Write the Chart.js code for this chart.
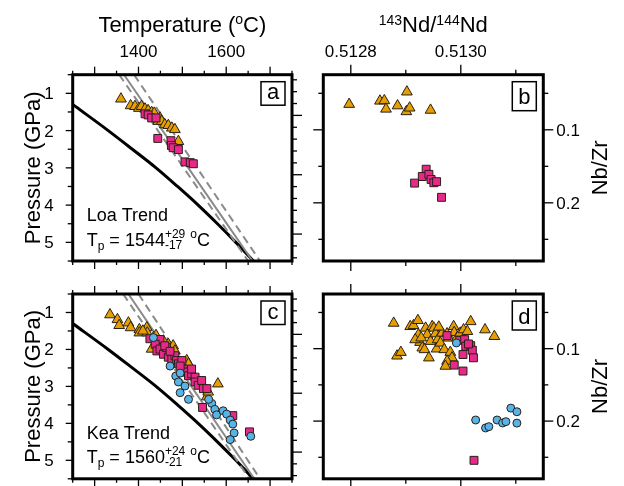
<!DOCTYPE html>
<html><head><meta charset="utf-8">
<script src="https://cdn.jsdelivr.net/npm/chart.js@4/dist/chart.umd.min.js"></script>
<style>
html,body{margin:0;padding:0;background:#fff;}
#wrap{position:relative;width:624px;height:486px;overflow:hidden;background:#fff;}
canvas{position:absolute;left:0;top:0;}
</style></head><body>
<div id="wrap">
<canvas id="ca" width="624" height="486"></canvas>
<canvas id="cb" width="624" height="486"></canvas>
<canvas id="cc" width="624" height="486"></canvas>
<canvas id="cd" width="624" height="486"></canvas>
</div>
<script>
// ---------- axis ticks ----------
const tempTicks = [1250,1300,1350,1400,1450,1500,1550,1600,1650,1700,1750];
const tempMajor = [1300,1400,1500,1600,1700];
const tempLabels = [1400,1600];
const presTicks = [0.5,1,1.5,2,2.5,3,3.5,4,4.5,5,5.5];
const presMajor = [1,2,3,4,5];
const presLabels = [1,2,3,4,5];
const depthTicks = [20,30,40,50,60,70,80,90,100,110,120,130,140,150,160,170];
const depthMajor = [50,100,150];
const ndTicks = [0.5128,0.5129,0.5130,0.5131];
const ndMajor = [0.5128,0.5130];
const ndLabels = [0.5128,0.5130];
const nbzrTicks = [0.05,0.1,0.15,0.2,0.25];
const nbzrMajor = [0.1,0.2];
const nbzrLabels = [0.1,0.2];

// ---------- model curves (Temperature °C, Pressure GPa) ----------
const solidusTP = [[1250,1.3],[1331,2],[1386,2.5],[1440,3],[1489,3.5],[1536,4],[1580,4.5],[1622,5],[1662,5.5]];
const loaAdiabatTP = [[1367,0.5],[1660,5.5]];
const loaAdiabatLoTP = [[1356,0.5],[1650,5.5]];
const loaAdiabatHiTP = [[1390,0.5],[1677,5.5]];
const keaAdiabatTP = [[1377,0.5],[1664,5.5]];
const keaAdiabatLoTP = [[1365,0.5],[1653,5.5]];
const keaAdiabatHiTP = [[1400,0.5],[1677,5.5]];

// ---------- Loa trend, panel a (T, P) ----------
const loaTriTP = [[1360,1.15],[1382,1.33],[1392,1.35],[1401,1.40],[1407,1.35],[1415,1.42],[1422,1.46],[1430,1.51],[1436,1.53],[1449,1.66],[1445,1.75],[1453,1.75],[1460,1.84],[1468,1.86],[1476,1.93],[1483,1.97],[1491,2.29]];
const loaSqTP = [[1415,1.55],[1422,1.58],[1430,1.66],[1440,1.66],[1444,2.21],[1474,2.27],[1475,2.40],[1479,2.46],[1491,2.51],[1506,2.84],[1518,2.86],[1525,2.89]];
// ---------- Loa trend, panel b (143Nd/144Nd, Nb/Zr) ----------
const loaTriNdNb = [[0.512797,0.065],[0.512853,0.0605],[0.512861,0.060],[0.512864,0.0715],[0.512885,0.067],[0.512902,0.048],[0.512901,0.075],[0.512907,0.070],[0.512945,0.073]];
const loaSqNdNb = [[0.512937,0.154],[0.51293,0.164],[0.512942,0.161],[0.512946,0.168],[0.512916,0.173],[0.512951,0.1725],[0.512956,0.171],[0.512965,0.1925]];

// ---------- Kea trend, panel c (T, P) ----------
const keaTriTP = [[1335,1.06],[1352,1.19],[1356,1.35],[1377,1.28],[1382,1.41],[1402,1.46],[1402,1.55],[1419,1.41],[1420,1.55],[1434,1.68],[1430,1.99],[1457,1.77],[1468,1.86],[1479,1.90],[1483,2.04],[1476,2.13],[1510,2.30],[1514,2.39],[1581,2.93],[1556,3.28],[1559,3.15],[1440,1.62],[1410,1.50],[1447,1.80],[1465,2.00]];
const keaSqTP = [[1426,1.71],[1449,1.73],[1438,1.86],[1442,2.04],[1449,1.99],[1457,2.13],[1464,1.95],[1468,2.21],[1476,2.26],[1483,2.17],[1487,2.30],[1491,2.39],[1499,2.30],[1502,2.53],[1506,2.61],[1514,2.71],[1521,2.66],[1529,2.75],[1529,2.88],[1536,2.97],[1544,2.84],[1548,3.06],[1556,3.06],[1546,3.57],[1615,3.79],[1653,4.23],[1521,2.53],[1495,2.45],[1460,1.90],[1472,2.05]];
const keaCircTP = [[1434,1.68],[1472,2.45],[1485,2.72],[1495,2.64],[1491,2.88],[1506,2.99],[1495,3.17],[1514,3.35],[1567,3.46],[1574,3.62],[1578,3.77],[1593,3.66],[1601,3.75],[1609,3.91],[1615,4.02],[1618,4.26],[1609,4.44],[1656,4.35],[1560,3.35]];
// ---------- Kea trend, panel d (143Nd/144Nd, Nb/Zr) ----------
const keaTriNdNb = [[0.512878,0.0647],[0.512884,0.110],[0.512891,0.105],[0.512908,0.0693],[0.512914,0.068],[0.512922,0.061],[0.512923,0.0807],[0.512926,0.0912],[0.512930,0.0989],[0.512934,0.1012],[0.512936,0.0715],[0.512939,0.0807],[0.512942,0.1126],[0.512945,0.0898],[0.512948,0.0693],[0.512951,0.0715],[0.512954,0.0793],[0.512956,0.1003],[0.512958,0.0875],[0.512963,0.0921],[0.512966,0.0784],[0.512970,0.1012],[0.512975,0.0793],[0.512978,0.0852],[0.512981,0.105],[0.512984,0.1126],[0.512975,0.1172],[0.512972,0.1241],[0.512987,0.0693],[0.512988,0.0775],[0.512993,0.0852],[0.512999,0.0784],[0.513005,0.0738],[0.513012,0.0761],[0.513018,0.0625],[0.513044,0.0738],[0.513061,0.083],[0.512917,0.0875],[0.512928,0.0850],[0.512960,0.0700]];
const keaSqNdNb = [[0.512975,0.082],[0.512998,0.0885],[0.513007,0.0875],[0.513009,0.0967],[0.513018,0.0958],[0.513021,0.1022],[0.513004,0.1081],[0.513023,0.1126],[0.512988,0.1227],[0.513004,0.1309],[0.513024,0.2542],[0.513014,0.0935]];
const keaCircNdNb = [[0.512992,0.0921],[0.513027,0.1985],[0.513045,0.2095],[0.513051,0.2077],[0.513066,0.1985],[0.513076,0.2026],[0.513082,0.2008],[0.513091,0.1821],[0.513102,0.1871],[0.513102,0.2028]];

// ---------- styling ----------
const FONT = "'Liberation Sans', Arial, Helvetica, sans-serif";
const fnt = s => s + 'px ' + FONT;
const ORANGE = '#E69F00', MAGENTA = '#E7298A', BLUE = '#56B4E9', EDGE = '#2a2018';
const TRI_R = 6.2, SQ_R = 5.6, CIRC_R = 4;

const pts = arr => arr.map(p => ({x:p[0], y:p[1]}));
function markers(arr, style, color, r, order){
  return {data: pts(arr), pointStyle: style, backgroundColor: color, borderColor: EDGE,
    pointBorderWidth: 1, pointRadius: r, showLine: false, order: order};
}
function curve(arr, color, w, dash, order){
  return {data: pts(arr), showLine: true, borderColor: color, borderWidth: w, borderDash: dash || [],
    pointRadius: 0, fill: false, order: order, cubicInterpolationMode: 'monotone'};
}
const near = (a, list) => list.some(v => Math.abs(v - a) < 1e-9);

function segW(ctx, s){
  if (s.stack) return Math.max(...s.stack.map(p => {ctx.font = fnt(p.size); return ctx.measureText(p.t).width;}));
  ctx.font = fnt(s.size); return ctx.measureText(s.t).width;
}
function drawRich(ctx, segs, x, y, align){
  const total = segs.reduce((a, s) => a + segW(ctx, s), 0);
  let cx = align === 'center' ? x - total / 2 : x;
  ctx.textAlign = 'left'; ctx.textBaseline = 'alphabetic';
  segs.forEach(s => {
    const w = segW(ctx, s);
    if (s.stack) s.stack.forEach(p => {ctx.font = fnt(p.size); ctx.fillText(p.t, cx, y + p.dy);});
    else {ctx.font = fnt(s.size); ctx.fillText(s.t, cx, y + (s.dy || 0));}
    cx += w;
  });
}

function panelPlugin(o){
  return {
  id: 'panel',
  afterDraw(chart){
    const ctx = chart.ctx, a = chart.chartArea;
    ctx.save();
    ctx.strokeStyle = '#000'; ctx.fillStyle = '#000';
    ctx.lineWidth = 1.3;
    o.ticks.forEach(t => {
      const sc = chart.scales[t.scale];
      t.values.forEach(v => {
        const len = near(v, t.major) ? t.majorLen : t.minorLen;
        const p = sc.getPixelForValue(v);
        ctx.beginPath();
        if (t.side === 'top'){ctx.moveTo(p, a.top); ctx.lineTo(p, a.top - len);}
        if (t.side === 'bottom'){ctx.moveTo(p, a.bottom); ctx.lineTo(p, a.bottom + len);}
        if (t.side === 'left'){ctx.moveTo(a.left, p); ctx.lineTo(a.left - len, p);}
        if (t.side === 'right'){ctx.moveTo(a.right, p); ctx.lineTo(a.right + len, p);}
        ctx.stroke();
      });
    });
    ctx.lineWidth = 3;
    ctx.strokeRect(a.left, a.top, a.right - a.left, a.bottom - a.top);
    // tick labels
    ctx.textBaseline = 'alphabetic';
    (o.labels || []).forEach(l => {
      const sc = chart.scales[l.scale];
      l.values.forEach(v => {
        const p = sc.getPixelForValue(v), txt = l.fmt(v);
        ctx.font = fnt(17);
        if (l.side === 'top'){ctx.textAlign = 'center'; ctx.fillText(txt, p, a.top - 18);}
        if (l.side === 'left'){ctx.textAlign = 'right'; ctx.fillText(txt, a.left - 19, p + 6);}
        if (l.side === 'right'){ctx.textAlign = 'left'; ctx.fillText(txt, a.right + 13, p + 6);}
      });
    });
    // axis titles
    (o.titles || []).forEach(tt => {
      if (tt.rot){
        ctx.save(); ctx.translate(tt.x, (a.top + a.bottom) / 2); ctx.rotate(-Math.PI / 2);
        drawRich(ctx, tt.segs, 0, 0, 'center'); ctx.restore();
      } else drawRich(ctx, tt.segs, (a.left + a.right) / 2, tt.y, 'center');
    });
    // trend text
    if (o.trend){
      drawRich(ctx, [{t: o.trend.name, size: 18}], a.left + 14, a.bottom - 40, 'left');
      drawRich(ctx, [
        {t:'T', size:18}, {t:'p', size:12, dy:4}, {t:' = ' + o.trend.tp, size:18},
        {stack:[{t:o.trend.plus, size:12, dy:-8}, {t:o.trend.minus, size:12, dy:3}]},
        {t:' ', size:18}, {t:'o', size:12, dy:-8}, {t:'C', size:18}
      ], a.left + 14, a.bottom - 15.5, 'left');
    }
    // panel letter box
    if (o.letter){
      const w = 24, h = o.letter.h, bx = a.right - 7 - w, by = a.top + 7;
      ctx.fillStyle = '#fff'; ctx.fillRect(bx, by, w, h); ctx.fillStyle = '#000';
      ctx.lineWidth = 1.5; ctx.strokeRect(bx, by, w, h);
      ctx.font = fnt(22); ctx.textAlign = 'center'; ctx.textBaseline = 'alphabetic';
      ctx.fillText(o.letter.t, bx + w / 2, by + h - o.letter.pad);
    }
    ctx.restore();
  }
  };
}

function makeChart(id, datasets, scales, pad, panel){
  return new Chart(document.getElementById(id), {
    type: 'scatter',
    data: {datasets},
    options: {
      responsive: false, animation: false, devicePixelRatio: 1, events: [],
      layout: {padding: pad},
      scales,
      plugins: {legend: {display: false}, tooltip: {enabled: false}, title: {display: false}}
    },
    plugins: [panelPlugin(panel)]
  });
}

const tpScales = () => ({
  x: {type:'linear', min:1250, max:1750, display:false},
  y: {type:'linear', min:0.5, max:5.5, reverse:true, display:false},
  yd: {type:'linear', min:15.7, max:172.7, reverse:true, display:false}
});
const ndScales = () => ({
  x: {type:'linear', min:0.51275, max:0.51315, display:false},
  y: {type:'linear', min:0.0245, max:0.2797, reverse:true, display:false}
});
const tpTicks = [
  {side:'top', scale:'x', values:tempTicks, major:tempMajor, majorLen:8, minorLen:4},
  {side:'bottom', scale:'x', values:tempTicks, major:tempMajor, majorLen:8, minorLen:4},
  {side:'left', scale:'y', values:presTicks, major:presMajor, majorLen:7, minorLen:5},
  {side:'right', scale:'yd', values:depthTicks, major:depthMajor, majorLen:10, minorLen:5}
];
const ndTickSet = [
  {side:'top', scale:'x', values:ndTicks, major:ndMajor, majorLen:10, minorLen:5},
  {side:'bottom', scale:'x', values:ndTicks, major:ndMajor, majorLen:10, minorLen:5},
  {side:'left', scale:'y', values:nbzrTicks, major:nbzrMajor, majorLen:10, minorLen:5},
  {side:'right', scale:'y', values:nbzrTicks, major:nbzrMajor, majorLen:10, minorLen:5}
];
const presTitle = {rot:true, x:40, segs:[{t:'Pressure (GPa)', size:22}]};
const nbTitle = {rot:true, x:607, segs:[{t:'Nb/Zr', size:22}]};
const presLab = {side:'left', scale:'y', values:presLabels, fmt:v => String(v)};
const nbLab = {side:'right', scale:'y', values:nbzrLabels, fmt:v => v.toFixed(1)};

// Panel a
makeChart('ca', [
  curve(solidusTP, '#000', 3, null, 6),
  curve(loaAdiabatLoTP, '#8a8a8a', 2, [8,5], 5),
  curve(loaAdiabatTP, '#8a8a8a', 2, null, 5),
  curve(loaAdiabatHiTP, '#8a8a8a', 2, [8,5], 5),
  markers(loaTriTP, 'triangle', ORANGE, TRI_R, 3),
  markers(loaSqTP, 'rect', MAGENTA, SQ_R, 2)
], tpScales(), {left:72.7, top:74.7, right:332, bottom:225}, {
  ticks: tpTicks,
  labels: [{side:'top', scale:'x', values:tempLabels, fmt:v => String(v)}, presLab],
  titles: [{y:32, segs:[{t:'Temperature (', size:22}, {t:'o', size:14, dy:-8}, {t:'C)', size:22}]}, presTitle],
  trend: {name:'Loa Trend', tp:'1544', plus:'+29', minus:'-17'},
  letter: {t:'a', h:23.5, pad:6}
});
// Panel b
makeChart('cb', [
  markers(loaTriNdNb, 'triangle', ORANGE, TRI_R, 3),
  markers(loaSqNdNb, 'rect', MAGENTA, SQ_R, 2)
], ndScales(), {left:323.3, top:74.7, right:80.7, bottom:225}, {
  ticks: ndTickSet,
  labels: [{side:'top', scale:'x', values:ndLabels, fmt:v => v.toFixed(4)}, nbLab],
  titles: [{y:32, segs:[{t:'143', size:14, dy:-7.5}, {t:'Nd/', size:22}, {t:'144', size:14, dy:-7.5}, {t:'Nd', size:22}]}, nbTitle],
  letter: {t:'b', h:29, pad:6.5}
});
// Panel c
makeChart('cc', [
  curve(solidusTP, '#000', 3, null, 6),
  curve(keaAdiabatLoTP, '#8a8a8a', 2, [8,5], 5),
  curve(keaAdiabatTP, '#8a8a8a', 2, null, 5),
  curve(keaAdiabatHiTP, '#8a8a8a', 2, [8,5], 5),
  markers(keaTriTP, 'triangle', ORANGE, TRI_R, 3),
  markers(keaSqTP, 'rect', MAGENTA, SQ_R, 2),
  markers(keaCircTP, 'circle', BLUE, CIRC_R, 1)
], tpScales(), {left:72.7, top:294, right:332, bottom:5}, {
  ticks: tpTicks,
  labels: [presLab],
  titles: [presTitle],
  trend: {name:'Kea Trend', tp:'1560', plus:'+24', minus:'-21'},
  letter: {t:'c', h:23.5, pad:6}
});
// Panel d
makeChart('cd', [
  markers(keaTriNdNb, 'triangle', ORANGE, TRI_R, 3),
  markers(keaSqNdNb, 'rect', MAGENTA, SQ_R, 2),
  markers(keaCircNdNb, 'circle', BLUE, CIRC_R, 1)
], ndScales(), {left:323.3, top:294, right:80.7, bottom:5}, {
  ticks: ndTickSet,
  labels: [nbLab],
  titles: [nbTitle],
  letter: {t:'d', h:29, pad:6.5}
});
</script>
</body></html>
